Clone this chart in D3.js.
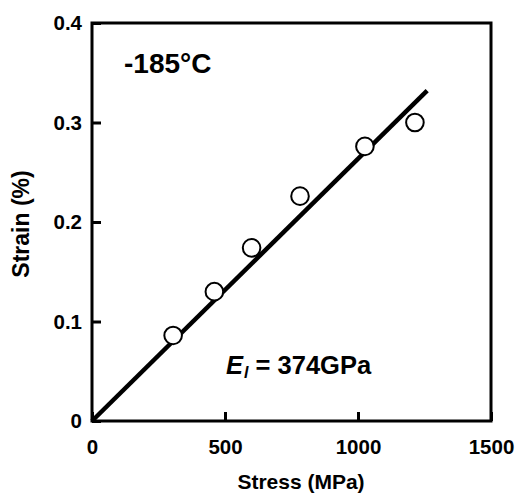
<!DOCTYPE html>
<html><head><meta charset="utf-8">
<script src="https://cdn.jsdelivr.net/npm/d3@7"></script>
<style>body{margin:0;background:#fff}svg{display:block}text{font-family:"Liberation Sans",Arial,Helvetica,sans-serif;font-weight:bold;fill:#000}</style>
</head><body>
<svg id="c" width="517" height="493"></svg>
<script>
const stress = [305, 460, 600, 782, 1026, 1214];
const strain = [0.086, 0.130, 0.174, 0.226, 0.276, 0.300];
const fitStress = [0, 1260];
const fitStrain = [0, 0.332];
const xTicks = [0, 500, 1000, 1500];
const yTicks = [0, 0.1, 0.2, 0.3, 0.4];
const yTickLabels = ["0", "0.1", "0.2", "0.3", "0.4"];

const svg = d3.select("#c");
const L = 92, R = 491, T = 23, B = 421;
const x = d3.scaleLinear().domain([0, 1500]).range([L, R]);
const y = d3.scaleLinear().domain([0, 0.4]).range([B, T]);

svg.append("rect").attr("x", L).attr("y", T).attr("width", R - L).attr("height", B - T)
  .attr("fill", "none").attr("stroke", "#000").attr("stroke-width", 3);

const xa = svg.append("g").attr("transform", `translate(0,${B})`)
  .call(d3.axisBottom(x).tickValues(xTicks).tickSizeInner(-9).tickSizeOuter(0).tickPadding(18).tickFormat(d3.format("d")));
xa.select(".domain").remove();
xa.selectAll("line").attr("stroke-width", 3).attr("stroke", "#000");
xa.selectAll("text").attr("font-size", 20.5).style("font-family", '"Liberation Sans",Arial,sans-serif').attr("font-weight", "bold");

const ya = svg.append("g").attr("transform", `translate(${L},0)`)
  .call(d3.axisLeft(y).tickValues(yTicks).tickSizeInner(-9).tickSizeOuter(0).tickPadding(10).tickFormat((d, i) => yTickLabels[i]));
ya.select(".domain").remove();
ya.selectAll("line").attr("stroke-width", 3).attr("stroke", "#000");
ya.selectAll("text").attr("font-size", 20.5).style("font-family", '"Liberation Sans",Arial,sans-serif').attr("font-weight", "bold");

svg.append("line")
  .attr("x1", x(fitStress[0])).attr("y1", y(fitStrain[0]))
  .attr("x2", x(fitStress[1])).attr("y2", y(fitStrain[1]))
  .attr("stroke", "#000").attr("stroke-width", 4.5);

svg.selectAll("circle.p").data(stress).enter().append("circle")
  .attr("cx", d => x(d)).attr("cy", (d, i) => y(strain[i])).attr("r", 8.8)
  .attr("fill", "#fff").attr("stroke", "#000").attr("stroke-width", 2);

svg.append("text").attr("x", 124).attr("y", 73).attr("font-size", 28).text("-185°C");
const t = svg.append("text").attr("x", 226).attr("y", 374).attr("font-size", 25.5);
t.append("tspan").attr("font-style", "italic").text("E");
t.append("tspan").attr("font-style", "italic").attr("font-size", 16).attr("dy", 4).attr("dx", 1).text("l");
t.append("tspan").attr("dy", -4).text(" = 374GPa");

svg.append("text").attr("x", 301).attr("y", 489).attr("text-anchor", "middle").attr("font-size", 21).text("Stress (MPa)");
svg.append("text").attr("transform", "translate(29,224) rotate(-90)").attr("text-anchor", "middle").attr("font-size", 23).text("Strain (%)");
</script>
</body></html>
